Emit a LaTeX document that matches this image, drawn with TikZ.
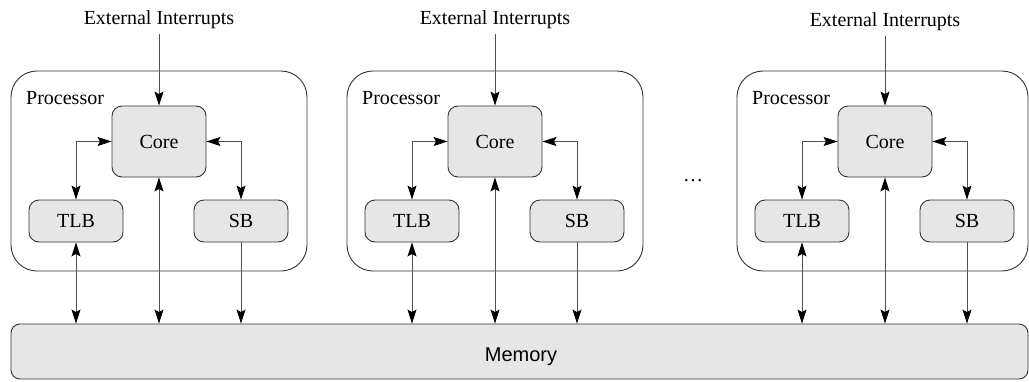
\documentclass[tikz,border=0pt]{standalone}
\usepackage{fontspec}
\setmainfont{Liberation Serif}
\newfontfamily\memfont{Liberation Sans}
\usetikzlibrary{arrows.meta}
\definecolor{boxfill}{HTML}{E6E6E6}
\definecolor{edge}{HTML}{333333}
\definecolor{wire}{HTML}{505050}
\tikzset{
  lbl/.style={font=\fontsize{20}{24}\selectfont, inner sep=0pt},
  procbox/.style={draw=edge, line width=0.9pt, rounded corners=26pt,
    minimum width=#1, minimum height=200pt, inner sep=0pt},
  unitbox/.style={draw=edge, fill=boxfill, line width=0.9pt, rounded corners=10pt,
    minimum width=94pt, minimum height=#1, inner sep=0pt,
    font=\fontsize{20}{24}\selectfont},
  membox/.style={draw=edge, fill=boxfill, line width=0.9pt, rounded corners=9pt,
    minimum width=1017pt, minimum height=55pt, inner sep=0pt},
  tip/.tip={Stealth[length=14pt,width=9pt,inset=2.5pt,color=black]},
  wire/.style={draw=wire, line width=0.9pt},
}
\begin{document}
\begin{tikzpicture}[x=1pt,y=-1pt]
  \useasboundingbox (0,0) rectangle (1029,381);

  % shared memory bus
  \node[membox] (mem) at (519.5,351.5) {};
  \node[lbl, font=\memfont\fontsize{20}{24}\selectfont, anchor=base] (memlabel) at (521,361) {Memory};

  % ellipsis between the second and third processor
  \node[lbl] (dots) at (693,181) {…};

  % processors: index / left edge / width / baseline of interrupt label
  \foreach \i/\x/\w/\ey in {1/11/296/24, 2/347/296/24, 3/737/291/26}{
    \node[procbox=\w] (p\i) at (\x+\w/2,171) {};
    \node[lbl, anchor=base west] (l\i) at (\x+15,104) {Processor};
    \node[unitbox=71pt] (c\i) at (\x+148,141.5) {Core};
    \node[unitbox=42pt] (t\i) at (\x+65,221) {TLB};
    \node[unitbox=42pt] (s\i) at (\x+230,221) {SB};
    \node[lbl, anchor=base, inner ysep=6pt] (e\i) at (\x+148,\ey) {External Interrupts};

    \draw[wire, -tip] (e\i.south) -- (c\i.north);
    \draw[wire, tip-tip] (c\i.west) -| (t\i.north);
    \draw[wire, tip-tip] (c\i.east) -| (s\i.north);
    \draw[wire, tip-tip] (t\i.south) -- (t\i.south |- mem.north);
    \draw[wire, tip-tip] (c\i.south) -- (c\i.south |- mem.north);
    \draw[wire, -tip] (s\i.south) -- (s\i.south |- mem.north);
  }
\end{tikzpicture}
\end{document}
